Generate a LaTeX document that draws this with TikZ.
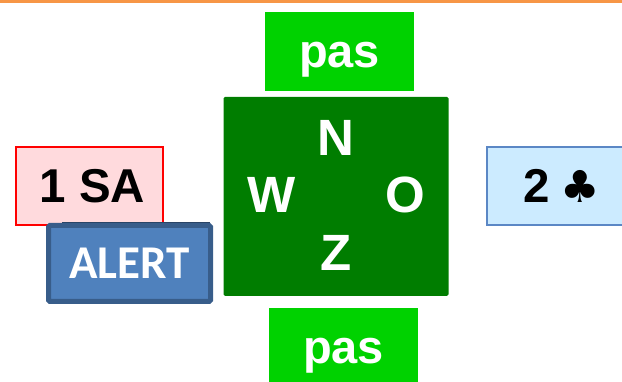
\documentclass[tikz,border=0pt]{standalone}
\usepackage{fontspec}
\setmainfont{Liberation Sans}
\newfontfamily\alertfont{Carlito}
\newfontfamily\suitfont{DejaVu Sans}
\usetikzlibrary{positioning}
\definecolor{topline}{HTML}{F79646}
\definecolor{passgreen}{HTML}{00D200}
\definecolor{tablegreen}{HTML}{007D00}
\definecolor{redfill}{HTML}{FFDADD}
\definecolor{bluefill}{HTML}{CCEBFF}
\definecolor{blueline}{HTML}{5B87C5}
\definecolor{alertfill}{HTML}{4F81BD}
\definecolor{alertline}{HTML}{385D8A}
\tikzset{
  bidbox/.style={minimum width=147pt,minimum height=78pt,inner sep=0pt,
    font=\fontsize{47.5}{47.5}\selectfont\bfseries,text=black},
  passbox/.style={fill=passgreen,minimum width=149pt,minimum height=79pt,inner sep=0pt,
    text height=32pt,text depth=0pt,text=white,font=\fontsize{47}{47}\selectfont\bfseries},
  wind/.style={inner sep=0pt,text=white,font=\fontsize{51}{51}\selectfont\bfseries}
}
\begin{document}
\begin{tikzpicture}[x=1pt,y=1pt]
  \useasboundingbox (0,0) rectangle (622,382);
  \clip (0,0) rectangle (622,382);
  \fill[topline] (0,379) rectangle (622,382);
  \node(table)[fill=tablegreen,rounded corners=1.5pt,minimum width=225pt,minimum height=199pt,inner sep=0pt] at (336,185.5){};
  \node(north)[wind] at (336,244){N};
  \node(west)[wind] at (272,187){W};
  \node(east)[wind] at (405,187){O};
  \node(south)[wind] at (336,129){Z};
  \node(passtop)[passbox] at (339.5,330.5){pas};
  \node(passbottom)[passbox] at (343.5,34.5){pas};
  \node(bidsa)[bidbox,draw=red,line width=1.2pt,fill=redfill] at (89.5,196){\hspace{6pt}1 SA};
  \node(bidclub)[bidbox,draw=blueline,line width=1.6pt,fill=bluefill,anchor=west] at (486,196){\hspace{3pt}2\hspace{10pt}{\suitfont\fontsize{44}{44}\selectfont ♣}};
  \draw[alertline!70!black,line width=1pt] (62,159.3) -- (210,159.3);
  \node(alert)[fill=alertfill,draw=alertline,line width=5pt,rounded corners=1.5pt,minimum width=162pt,minimum height=76pt,
    inner sep=0pt,text=white,font=\alertfont\fontsize{47}{47}\selectfont\bfseries] at (129.5,118.5){ALERT};
\end{tikzpicture}
\end{document}
